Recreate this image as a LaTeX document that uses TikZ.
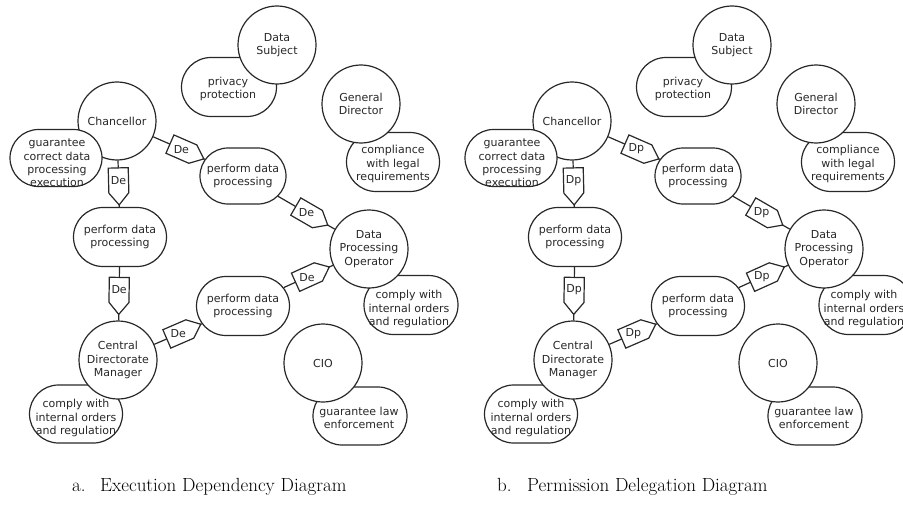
\documentclass[tikz,border=0pt]{standalone}
\usepackage{fontspec}
\newfontfamily\diagfont{DejaVu Sans}
\usetikzlibrary{shapes.misc,decorations.markings}
\definecolor{ink}{RGB}{40,40,40}
\newcommand{\diagsize}{\diagfont\fontsize{11}{13.3}\selectfont}
\tikzset{
  actor/.style={circle,draw=ink,fill=white,line width=1.2pt,minimum size=78pt,inner sep=0pt,align=center,text=ink,font=\diagsize},
  goalbox/.style={rounded rectangle,draw=ink,fill=white,line width=1.2pt,inner sep=0pt},
  goaltext/.style={align=center,text=ink,inner sep=0pt,font=\diagsize},
  caption/.style={anchor=base west,inner sep=0pt,font=\fontsize{19}{22}\selectfont},
  delegation/.style 2 args={draw=ink,line width=1.2pt,postaction={decorate,decoration={markings,
    mark=at position -#1 with {
      \filldraw[fill=white,draw=ink,line width=1.2pt] (-37pt,-10pt)--(-12pt,-10pt)--(0pt,0pt)--(-12pt,10pt)--(-37pt,10pt)--cycle;
      \node[goaltext] (mk) at (-24.5pt,0pt) {#2};}}}}
}
\newcommand{\goal}[6]{\node[goalbox,minimum width=#3pt,minimum height=#4pt] (#1) at (#2) {};
  \node[goaltext] (#1t) at (#5) {#6};}

\begin{document}
\begin{tikzpicture}[x=1pt,y=-1pt]
\clip (0,0) rectangle (903,511);
\foreach \dx/\lab in {0/De,455/Dp}{
\begin{scope}[xshift=\dx pt]
\goal{pp}{229,87}{95}{59}{228,89}{privacy\\protection}
\node[actor] (ds) at (277,45) {Data\\Subject};
\goal{cp}{393,162}{93}{59}{393,164}{compliance\\with legal\\requirements}
\node[actor] (gd) at (361,104) {General\\Director};
\node[actor] (ch) at (117,121) {Chancellor};
\goal{gu}{56,158}{92}{57}{57,163}{guarantee\\correct data\\processing\\execution}
\goal{pd1}{243,176}{86}{56}{243,176}{perform data\\processing}
\goal{pd2}{120,237}{93}{59}{120,237}{perform data\\processing}
\goal{pd3}{243,306}{93}{59}{243,306}{perform data\\processing}
\goal{cl}{76,414}{93}{58}{76,418}{comply with\\internal orders\\and regulation}
\node[actor] (cdm) at (118,360) {Central\\Directorate\\Manager};
\goal{cr}{411,305}{94}{59}{409,309}{comply with\\internal orders\\and regulation}
\node[actor] (dpo) at (369,249) {Data\\Processing\\Operator};
\goal{gl}{360,416}{94}{58}{359,418}{guarantee law\\enforcement}
\node[actor] (cio) at (323,363) {CIO};
\draw[delegation={1pt}{\lab}] (ch) -- (pd1);
\draw[delegation={2pt}{\lab}] (ch) -- (pd2);
\draw[delegation={6pt}{\lab}] (pd2) -- (cdm);
\draw[delegation={1pt}{\lab}] (cdm) -- (pd3);
\draw[delegation={8pt}{\lab}] (pd1) -- (dpo);
\draw[delegation={4pt}{\lab}] (pd3) -- (dpo);
\end{scope}
}
\node[caption] (capa) at (72,491) {a.};
\node[caption] (capat) at (100,491) {Execution Dependency Diagram};
\node[caption] (capb) at (497,491) {b.};
\node[caption] (capbt) at (527,491) {Permission Delegation Diagram};
\end{tikzpicture}
\end{document}
